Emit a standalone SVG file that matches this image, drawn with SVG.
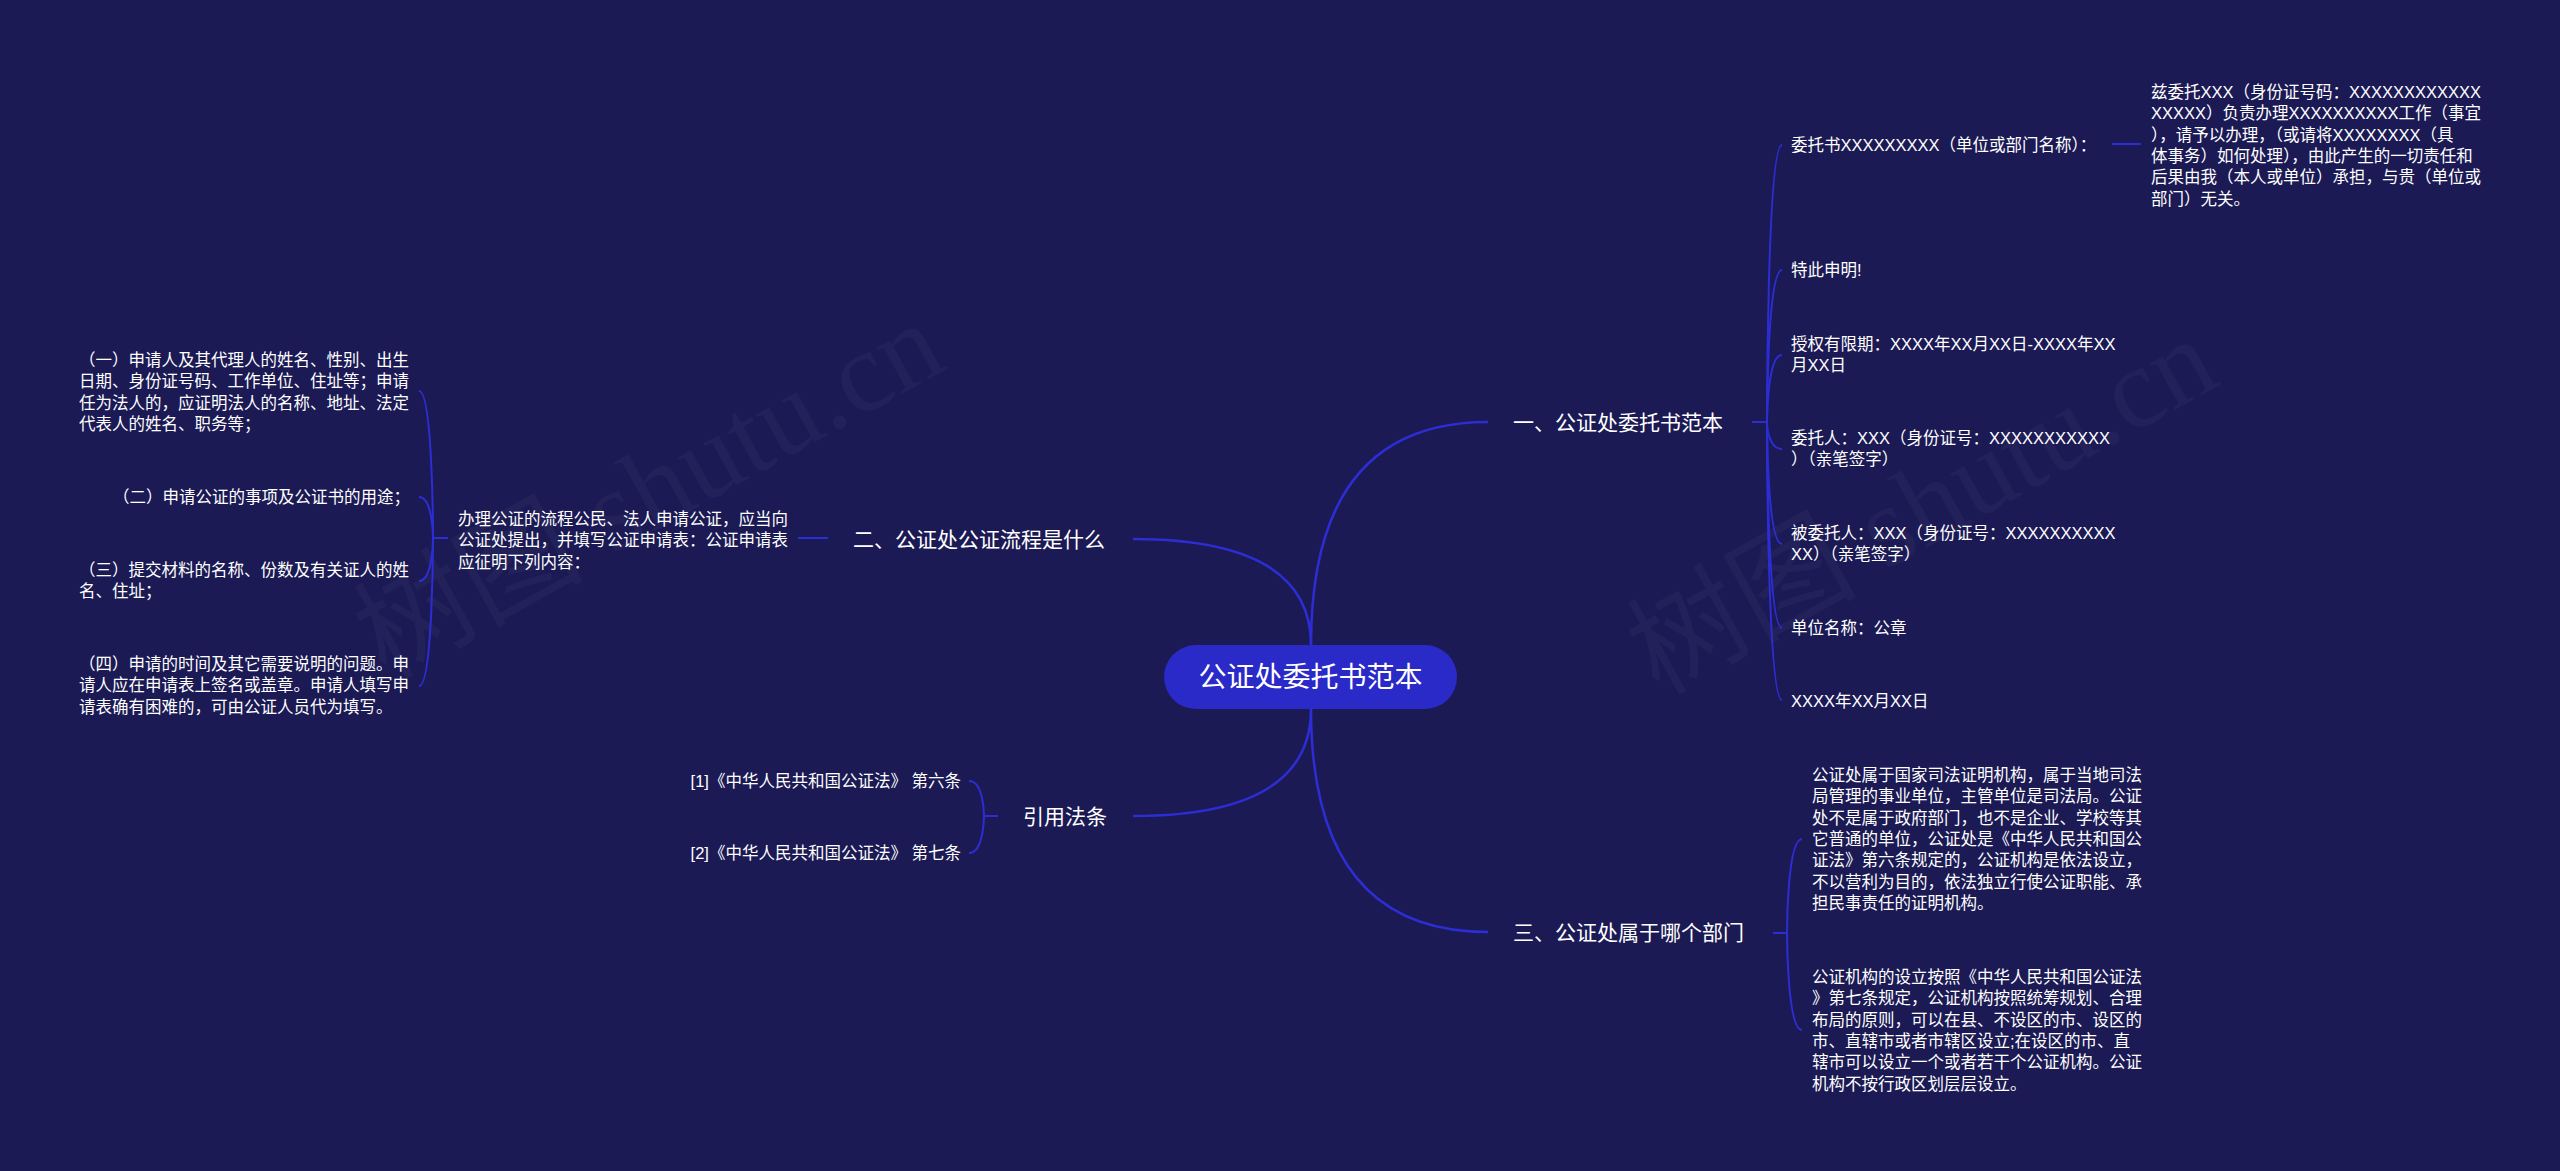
<svg xmlns="http://www.w3.org/2000/svg" width="2560" height="1171" viewBox="0 0 2560 1171">
<style>
.t{font-family:"Liberation Sans","Noto Sans CJK SC",sans-serif;fill:#ffffff}
.s{font-size:16.5px}
.b{font-size:21px}
.c{font-size:28px}
.ln{fill:none;stroke:#2d2dd4;stroke-width:2}
.mn{fill:none;stroke:#2d2dd4;stroke-width:2.5}
.wm{font-family:"Liberation Serif","Noto Sans CJK SC",serif;font-size:115px;fill:#ffffff;fill-opacity:0.03}
</style>
<rect x="0" y="0" width="2560" height="1171" fill="#1b1a54"/>
<g id="watermarks">
<text class="wm" transform="translate(649,490) rotate(-29)" text-anchor="middle" dominant-baseline="central">树图 shutu.cn</text>
<text class="wm" transform="translate(1922,506) rotate(-29)" text-anchor="middle" dominant-baseline="central">树图 shutu.cn</text>
</g>
<g id="connectors">
<path class="mn" d="M1311,645 Q1311,422 1488,422"/>
<path class="mn" d="M1311,645 Q1311,539 1133,539"/>
<path class="mn" d="M1311,709 Q1311,816 1133,816"/>
<path class="mn" d="M1311,709 Q1311,932 1488,932"/>
<path class="ln" d="M1752,422 H1767"/>
<path class="ln" d="M1767,422 C1767,422 1767,145 1782,145"/>
<path class="ln" d="M1767,422 C1767,422 1767,270 1782,270"/>
<path class="ln" d="M1767,422 C1767,422 1767,355 1782,355"/>
<path class="ln" d="M1767,422 C1767,422 1767,449 1782,449"/>
<path class="ln" d="M1767,422 C1767,422 1767,544 1782,544"/>
<path class="ln" d="M1767,422 C1767,422 1767,628 1782,628"/>
<path class="ln" d="M1767,422 C1767,422 1767,700 1782,700"/>
<path class="ln" d="M2112,144 H2141"/>
<path class="ln" d="M1773,933 H1787"/>
<path class="ln" d="M1787,933 C1787,933 1787,839 1802,839"/>
<path class="ln" d="M1787,933 C1787,933 1787,1030 1802,1030"/>
<path class="ln" d="M828,538 H798"/>
<path class="ln" d="M448,538 H433"/>
<path class="ln" d="M433,538 C433,538 433,391 419,391"/>
<path class="ln" d="M433,538 C433,538 433,497 419,497"/>
<path class="ln" d="M433,538 C433,538 433,581 419,581"/>
<path class="ln" d="M433,538 C433,538 433,686 419,686"/>
<path class="ln" d="M998,816 H984"/>
<path class="ln" d="M984,816 C984,816 984,781 969,781"/>
<path class="ln" d="M984,816 C984,816 984,853 969,853"/>
</g>
<g id="root">
<rect x="1164" y="645" width="293" height="64" rx="32" fill="#2a2ac9"/>
<text class="t c" x="1310.5" y="687" text-anchor="middle">公证处委托书范本</text>
</g>
<g id="b1">
<text class="t b" x="1513" y="429.5">一、公证处委托书范本</text>
</g>
<g id="b1-1">
<text class="t s" x="1791" y="151">委托书XXXXXXXXX（单位或部门名称）：</text>
</g>
<g id="b1-1-1">
<text class="t s"><tspan x="2151" y="98">兹委托XXX（身份证号码：XXXXXXXXXXXX</tspan><tspan x="2151" y="119.3">XXXXX）负责办理XXXXXXXXXX工作（事宜</tspan><tspan x="2151" y="140.6">），请予以办理，（或请将XXXXXXXX（具</tspan><tspan x="2151" y="161.9">体事务）如何处理），由此产生的一切责任和</tspan><tspan x="2151" y="183.2">后果由我（本人或单位）承担，与贵（单位或</tspan><tspan x="2151" y="204.5">部门）无关。</tspan></text>
</g>
<g id="b1-2">
<text class="t s" x="1791" y="276">特此申明!</text>
</g>
<g id="b1-3">
<text class="t s"><tspan x="1791" y="350">授权有限期：XXXX年XX月XX日-XXXX年XX</tspan><tspan x="1791" y="371.3">月XX日</tspan></text>
</g>
<g id="b1-4">
<text class="t s"><tspan x="1791" y="444">委托人：XXX（身份证号：XXXXXXXXXXX</tspan><tspan x="1791" y="465.3">）（亲笔签字）</tspan></text>
</g>
<g id="b1-5">
<text class="t s"><tspan x="1791" y="539">被委托人：XXX（身份证号：XXXXXXXXXX</tspan><tspan x="1791" y="560.3">XX）（亲笔签字）</tspan></text>
</g>
<g id="b1-6">
<text class="t s" x="1791" y="634">单位名称：公章</text>
</g>
<g id="b1-7">
<text class="t s" x="1791" y="707">XXXX年XX月XX日</text>
</g>
<g id="b3">
<text class="t b" x="1513" y="939.5">三、公证处属于哪个部门</text>
</g>
<g id="b3-1">
<text class="t s"><tspan x="1812" y="781">公证处属于国家司法证明机构，属于当地司法</tspan><tspan x="1812" y="802.3">局管理的事业单位，主管单位是司法局。公证</tspan><tspan x="1812" y="823.6">处不是属于政府部门，也不是企业、学校等其</tspan><tspan x="1812" y="844.9">它普通的单位，公证处是《中华人民共和国公</tspan><tspan x="1812" y="866.2">证法》第六条规定的，公证机构是依法设立，</tspan><tspan x="1812" y="887.5">不以营利为目的，依法独立行使公证职能、承</tspan><tspan x="1812" y="908.8">担民事责任的证明机构。</tspan></text>
</g>
<g id="b3-2">
<text class="t s"><tspan x="1812" y="983">公证机构的设立按照《中华人民共和国公证法</tspan><tspan x="1812" y="1004.3">》第七条规定，公证机构按照统筹规划、合理</tspan><tspan x="1812" y="1025.6">布局的原则，可以在县、不设区的市、设区的</tspan><tspan x="1812" y="1046.9">市、直辖市或者市辖区设立;在设区的市、直</tspan><tspan x="1812" y="1068.2">辖市可以设立一个或者若干个公证机构。公证</tspan><tspan x="1812" y="1089.5">机构不按行政区划层层设立。</tspan></text>
</g>
<g id="b2">
<text class="t b" x="853" y="546.5">二、公证处公证流程是什么</text>
</g>
<g id="b2-1">
<text class="t s"><tspan x="458" y="525">办理公证的流程公民、法人申请公证，应当向</tspan><tspan x="458" y="546.3">公证处提出，并填写公证申请表：公证申请表</tspan><tspan x="458" y="567.6">应征明下列内容：</tspan></text>
</g>
<g id="b2-1-1">
<text class="t s"><tspan x="79" y="366">（一）申请人及其代理人的姓名、性别、出生</tspan><tspan x="79" y="387.3">日期、身份证号码、工作单位、住址等；申请</tspan><tspan x="79" y="408.6">任为法人的，应证明法人的名称、地址、法定</tspan><tspan x="79" y="429.9">代表人的姓名、职务等；</tspan></text>
</g>
<g id="b2-1-2">
<text class="t s" x="410" y="503" text-anchor="end">（二）申请公证的事项及公证书的用途；</text>
</g>
<g id="b2-1-3">
<text class="t s"><tspan x="79" y="576">（三）提交材料的名称、份数及有关证人的姓</tspan><tspan x="79" y="597.3">名、住址；</tspan></text>
</g>
<g id="b2-1-4">
<text class="t s"><tspan x="79" y="670">（四）申请的时间及其它需要说明的问题。申</tspan><tspan x="79" y="691.3">请人应在申请表上签名或盖章。申请人填写申</tspan><tspan x="79" y="712.6">请表确有困难的，可由公证人员代为填写。</tspan></text>
</g>
<g id="b4">
<text class="t b" x="1023" y="823.5">引用法条</text>
</g>
<g id="b4-1">
<text class="t s" x="961" y="787" text-anchor="end">[1]《中华人民共和国公证法》 第六条</text>
</g>
<g id="b4-2">
<text class="t s" x="961" y="859" text-anchor="end">[2]《中华人民共和国公证法》 第七条</text>
</g>
</svg>
